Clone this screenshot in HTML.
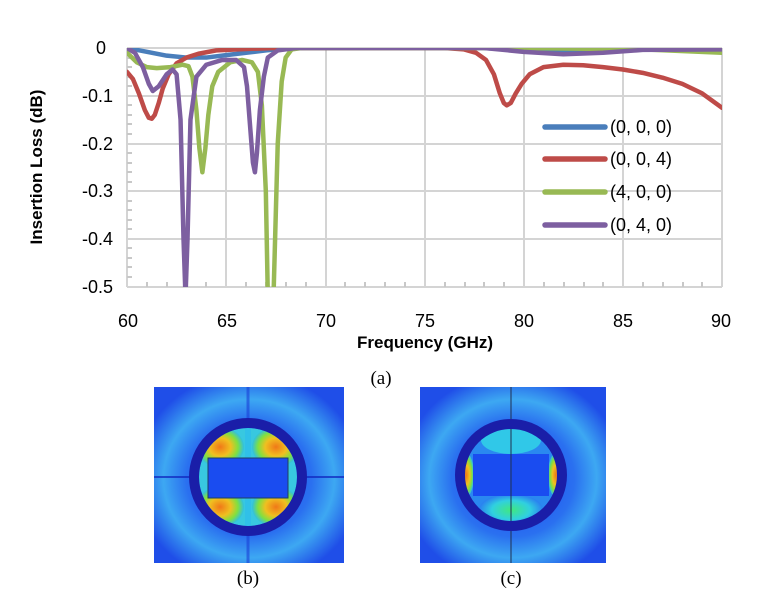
<!DOCTYPE html>
<html><head><meta charset="utf-8"><style>
html,body{margin:0;padding:0;background:#fff;}
body{width:769px;height:605px;position:relative;overflow:hidden;}
</style></head><body>
<svg width="769" height="605" xmlns="http://www.w3.org/2000/svg" style="position:absolute;left:0;top:0">
<defs>
<radialGradient id="bgb" cx="50%" cy="52%" r="60%">
<stop offset="0" stop-color="#1a3cf0"/><stop offset="0.55" stop-color="#2a70f0"/><stop offset="0.75" stop-color="#3da8f2"/><stop offset="1" stop-color="#1f4ee8"/></radialGradient>
<radialGradient id="hot" cx="50%" cy="50%" r="50%">
<stop offset="0" stop-color="#f07818"/><stop offset="0.45" stop-color="#f0c020"/><stop offset="0.75" stop-color="#80e040"/><stop offset="1" stop-color="#30c0e0"/></radialGradient>
<radialGradient id="cy" cx="50%" cy="50%" r="50%">
<stop offset="0" stop-color="#40e880"/><stop offset="0.6" stop-color="#30d0e0"/><stop offset="1" stop-color="#2a80f0"/></radialGradient>
<clipPath id="cb"><circle cx="248" cy="477" r="49"/></clipPath>
<clipPath id="cc"><circle cx="511" cy="475" r="47"/></clipPath>
</defs>
<g stroke="#d4d4d4" stroke-width="2" fill="none">
<line x1="127" y1="48" x2="722" y2="48"/>
<line x1="127" y1="96" x2="722" y2="96"/>
<line x1="127" y1="144" x2="722" y2="144"/>
<line x1="127" y1="191" x2="722" y2="191"/>
<line x1="127" y1="239" x2="722" y2="239"/>
<line x1="226" y1="48" x2="226" y2="287"/>
<line x1="326" y1="48" x2="326" y2="287"/>
<line x1="425" y1="48" x2="425" y2="287"/>
<line x1="524" y1="48" x2="524" y2="287"/>
<line x1="623" y1="48" x2="623" y2="287"/>
<line x1="722" y1="48" x2="722" y2="287"/>
<line x1="127" y1="48" x2="127" y2="287"/>
<line x1="127" y1="287" x2="722" y2="287"/>
</g>
<g stroke="#c8c8c8" stroke-width="2">
<path d="M147 287v-5M167 287v-5M187 287v-5M206 287v-5M246 287v-5M266 287v-5M286 287v-5M306 287v-5M345 287v-5M365 287v-5M385 287v-5M405 287v-5M445 287v-5M465 287v-5M484 287v-5M504 287v-5M544 287v-5M564 287v-5M584 287v-5M603 287v-5M643 287v-5M663 287v-5M683 287v-5M702 287v-5"/>
<path d="M127 58h5M127 67h5M127 77h5M127 86h5M127 105h5M127 115h5M127 124h5M127 134h5M127 153h5M127 163h5M127 172h5M127 182h5M127 201h5M127 210h5M127 220h5M127 229h5M127 248h5M127 258h5M127 267h5M127 277h5"/>
</g>
<svg x="127" y="48" width="595" height="239" viewBox="60 0 30 0.5" preserveAspectRatio="none" overflow="hidden">
<g fill="none" stroke-linejoin="round" stroke-linecap="round">
<polyline vector-effect="non-scaling-stroke" stroke="#4a7ebb" stroke-width="4.5" fill="none" points="60,0 61,.008 62,.016 63,.02 64,.02 65,.015 66,.01 67,.005 68,.001 69,0 78,0 80,.005 82,.008 84,.005 86,.002 90,.002"/>
<polyline vector-effect="non-scaling-stroke" stroke="#be4b48" stroke-width="4.5" fill="none" points="60,.05 60.3,.065 60.6,.095 60.9,.13 61.1,.146 61.25,.148 61.4,.14 61.6,.115 61.8,.085 62.1,.055 62.5,.032 63,.02 63.6,.012 64.5,.005 66,.002 67.5,0 76,0 77,.003 77.6,.01 78.1,.025 78.5,.055 78.8,.095 79,.115 79.15,.12 79.35,.115 79.6,.095 79.9,.075 80.3,.055 81,.04 82,.035 83,.036 84,.04 85,.045 86,.052 87,.062 88,.075 89,.095 90,.125"/>
<polyline vector-effect="non-scaling-stroke" stroke="#98b954" stroke-width="4.5" fill="none" points="60,.01 60.5,.03 61,.04 61.5,.042 62.2,.04 62.8,.035 63.1,.038 63.3,.06 63.5,.13 63.65,.21 63.8,.26 63.95,.21 64.1,.14 64.3,.08 64.6,.05 65.2,.03 65.8,.025 66.3,.03 66.6,.05 66.8,.12 67,.3 67.1,.52 67.3,.52 67.4,.5 67.6,.2 67.8,.07 68,.02 68.3,.003 68.8,0 80,0 86,.003 90,.01"/>
<polyline vector-effect="non-scaling-stroke" stroke="#7d5fa0" stroke-width="4.5" fill="none" points="60,0 60.4,.01 60.8,.04 61.1,.075 61.3,.09 61.6,.08 62,.055 62.3,.045 62.5,.055 62.7,.15 62.85,.4 62.95,.52 63.05,.4 63.2,.15 63.5,.06 64,.035 64.8,.025 65.5,.025 65.9,.04 66.05,.08 66.2,.16 66.35,.24 66.45,.26 66.55,.22 66.7,.13 66.9,.06 67.1,.02 67.6,.005 68.5,0 78,0 80,.008 82,.013 84,.01 86,.004 90,.003"/>
</g></svg>
<g stroke-width="5.5" stroke-linecap="round">
<line x1="545" y1="127" x2="605" y2="127" stroke="#4a7ebb"/>
<line x1="545" y1="159" x2="605" y2="159" stroke="#be4b48"/>
<line x1="545" y1="192" x2="605" y2="192" stroke="#98b954"/>
<line x1="545" y1="225" x2="605" y2="225" stroke="#7d5fa0"/>
</g>
<g font-family="Liberation Sans, sans-serif" font-size="18" fill="#000">
<text x="610" y="133">(0, 0, 0)</text>
<text x="610" y="165">(0, 0, 4)</text>
<text x="610" y="198">(4, 0, 0)</text>
<text x="610" y="231">(0, 4, 0)</text>
</g>
<g font-family="Liberation Sans, sans-serif" font-size="18" fill="#000" text-anchor="end">
<text x="106" y="54">0</text>
<text x="113" y="102">-0.1</text>
<text x="113" y="150">-0.2</text>
<text x="113" y="197">-0.3</text>
<text x="113" y="245">-0.4</text>
<text x="113" y="293">-0.5</text>
</g>
<g font-family="Liberation Sans, sans-serif" font-size="18" fill="#000" text-anchor="middle">
<text x="128" y="327">60</text><text x="227" y="327">65</text><text x="326" y="327">70</text>
<text x="425" y="327">75</text><text x="524" y="327">80</text><text x="623" y="327">85</text><text x="721" y="327">90</text>
</g>
<text x="425" y="348" font-family="Liberation Sans, sans-serif" font-size="17" font-weight="bold" text-anchor="middle">Frequency (GHz)</text>
<text transform="translate(42,167) rotate(-90)" font-family="Liberation Sans, sans-serif" font-size="17" font-weight="bold" text-anchor="middle">Insertion Loss (dB)</text>
<text x="381" y="384" font-family="Liberation Serif, serif" font-size="19" text-anchor="middle">(a)</text>
<rect x="154" y="387" width="190" height="176" fill="url(#bgb)"/>
<line x1="154" y1="477" x2="344" y2="477" stroke="#1028c0" stroke-width="1.5"/>
<line x1="248" y1="387" x2="248" y2="563" stroke="#1a40d8" stroke-width="3" opacity="0.6"/>
<g clip-path="url(#cb)">
<rect x="199" y="428" width="98" height="98" fill="#38c8e0"/>
<ellipse cx="220" cy="447" rx="24" ry="20" fill="url(#hot)"/>
<ellipse cx="276" cy="447" rx="24" ry="20" fill="url(#hot)"/>
<ellipse cx="220" cy="507" rx="24" ry="20" fill="url(#hot)"/>
<ellipse cx="276" cy="507" rx="24" ry="20" fill="url(#hot)"/>
<rect x="245" y="428" width="6" height="98" fill="#30c0e8"/>
<rect x="208" y="458" width="80" height="40" fill="#1a4cf0" stroke="#204060" stroke-width="1"/>
</g>
<circle cx="248" cy="477" r="54" fill="none" stroke="#1a1ea8" stroke-width="10"/>
<rect x="420" y="387" width="186" height="176" fill="url(#bgb)"/>
<line x1="511" y1="387" x2="511" y2="563" stroke="#203050" stroke-width="1"/>
<g clip-path="url(#cc)">
<rect x="464" y="428" width="94" height="94" fill="#2a88f0"/>
<ellipse cx="511" cy="440" rx="30" ry="14" fill="#30c8e8"/>
<ellipse cx="511" cy="510" rx="32" ry="16" fill="url(#cy)"/>
<ellipse cx="466" cy="475" rx="8" ry="22" fill="url(#hot)"/>
<ellipse cx="556" cy="475" rx="8" ry="22" fill="url(#hot)"/>
<rect x="473" y="454" width="76" height="42" fill="#1a4cf0"/>
<line x1="511" y1="428" x2="511" y2="522" stroke="#203050" stroke-width="1"/>
</g>
<circle cx="511" cy="475" r="51" fill="none" stroke="#1a1ea8" stroke-width="10"/>
<g font-family="Liberation Serif, serif" font-size="19" text-anchor="middle">
<text x="248" y="584">(b)</text>
<text x="511" y="584">(c)</text>
</g>
</svg>
</body></html>
